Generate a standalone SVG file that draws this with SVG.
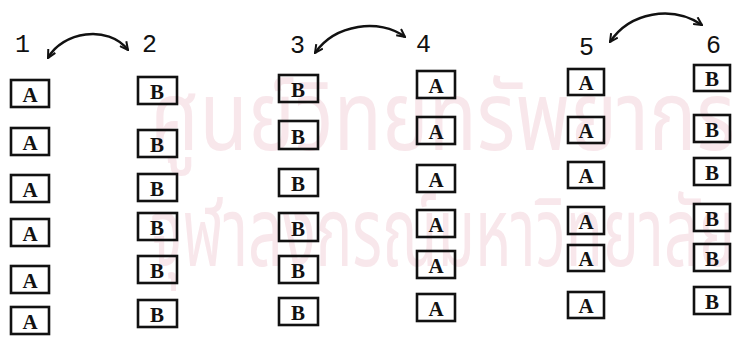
<svg xmlns="http://www.w3.org/2000/svg" width="732" height="339" viewBox="0 0 732 339">
<defs>
<style>
.wm{font-family:"Noto Sans Thai","Noto Sans","DejaVu Sans",sans-serif;font-size:96px;fill:#f8e7eb}
.lbl{font-family:"Liberation Mono","DejaVu Sans Mono",monospace;font-size:25px;fill:#111}
.bx rect{fill:none;stroke:#111;stroke-width:2.6}
.bx text{font-family:"Liberation Serif","DejaVu Serif",serif;font-weight:bold;font-size:21px;fill:#111;text-anchor:middle}
.arr{fill:none;stroke:#111;stroke-width:2.4;marker-start:url(#ah);marker-end:url(#ah)}
</style>
<marker id="ah" viewBox="0 0 10 10" refX="9" refY="5" markerWidth="10" markerHeight="10" orient="auto-start-reverse" markerUnits="userSpaceOnUse">
<path d="M1,1 L9,5 L1,9" fill="none" stroke="#111" stroke-width="2"/>
</marker>
</defs>
<rect width="732" height="339" fill="#fff"/>
<g id="watermark">
<text class="wm" x="150" y="150" textLength="585" lengthAdjust="spacingAndGlyphs">ศูนย์วิทยทรัพยากร</text>
<text class="wm" x="150" y="266" textLength="585" lengthAdjust="spacingAndGlyphs">จุฬาลงกรณ์มหาวิทยาลัย</text>
</g>
<g id="labels">
<text class="lbl" x="15" y="52">1</text>
<text class="lbl" x="142" y="52">2</text>
<text class="lbl" x="290" y="53">3</text>
<text class="lbl" x="416" y="52">4</text>
<text class="lbl" x="579" y="55">5</text>
<text class="lbl" x="706" y="53">6</text>
</g>
<g id="connectors">
<path class="arr" d="M48,58 C62,32 108,24 128,50"/>
<path class="arr" d="M315,53 C335,24 380,18 405,37"/>
<path class="arr" d="M610,42 C630,12 672,5 702,25"/>
</g>
<g id="col1" class="bx">
<g id="c1r1"><rect x="11" y="80" width="38" height="27"/><text x="30" y="102">A</text></g>
<g id="c1r2"><rect x="11" y="128" width="38" height="27"/><text x="30" y="150">A</text></g>
<g id="c1r3"><rect x="11" y="175" width="38" height="27"/><text x="30" y="197">A</text></g>
<g id="c1r4"><rect x="11" y="219" width="38" height="27"/><text x="30" y="241">A</text></g>
<g id="c1r5"><rect x="11" y="266" width="38" height="27"/><text x="30" y="288">A</text></g>
<g id="c1r6"><rect x="11" y="307" width="38" height="27"/><text x="30" y="329">A</text></g>
</g>
<g id="col2" class="bx">
<g id="c2r1"><rect x="138" y="77" width="39" height="27"/><text x="157" y="99">B</text></g>
<g id="c2r2"><rect x="138" y="130" width="39" height="27"/><text x="157" y="152">B</text></g>
<g id="c2r3"><rect x="138" y="174" width="39" height="27"/><text x="157" y="196">B</text></g>
<g id="c2r4"><rect x="138" y="213" width="39" height="27"/><text x="157" y="235">B</text></g>
<g id="c2r5"><rect x="138" y="256" width="39" height="27"/><text x="157" y="278">B</text></g>
<g id="c2r6"><rect x="138" y="300" width="39" height="27"/><text x="157" y="322">B</text></g>
</g>
<g id="col3" class="bx">
<g id="c3r1"><rect x="279" y="75" width="39" height="27"/><text x="298" y="97">B</text></g>
<g id="c3r2"><rect x="279" y="121" width="39" height="28"/><text x="298" y="144">B</text></g>
<g id="c3r3"><rect x="279" y="169" width="39" height="27"/><text x="298" y="191">B</text></g>
<g id="c3r4"><rect x="279" y="213" width="39" height="28"/><text x="298" y="236">B</text></g>
<g id="c3r5"><rect x="279" y="256" width="39" height="27"/><text x="298" y="278">B</text></g>
<g id="c3r6"><rect x="279" y="298" width="39" height="27"/><text x="298" y="320">B</text></g>
</g>
<g id="col4" class="bx">
<g id="c4r1"><rect x="417" y="71" width="38" height="27"/><text x="436" y="93">A</text></g>
<g id="c4r2"><rect x="417" y="117" width="38" height="27"/><text x="436" y="139">A</text></g>
<g id="c4r3"><rect x="417" y="165" width="38" height="27"/><text x="436" y="187">A</text></g>
<g id="c4r4"><rect x="417" y="210" width="38" height="27"/><text x="436" y="232">A</text></g>
<g id="c4r5"><rect x="417" y="251" width="38" height="27"/><text x="436" y="273">A</text></g>
<g id="c4r6"><rect x="417" y="294" width="38" height="27"/><text x="436" y="316">A</text></g>
</g>
<g id="col5" class="bx">
<g id="c5r1"><rect x="568" y="69" width="36" height="26"/><text x="586" y="90">A</text></g>
<g id="c5r2"><rect x="568" y="117" width="36" height="26"/><text x="586" y="138">A</text></g>
<g id="c5r3"><rect x="568" y="162" width="36" height="26"/><text x="586" y="183">A</text></g>
<g id="c5r4"><rect x="568" y="207" width="36" height="27"/><text x="586" y="229">A</text></g>
<g id="c5r5"><rect x="568" y="245" width="36" height="26"/><text x="586" y="266">A</text></g>
<g id="c5r6"><rect x="568" y="292" width="36" height="26"/><text x="586" y="313">A</text></g>
</g>
<g id="col6" class="bx">
<g id="c6r1"><rect x="694" y="65" width="36" height="26"/><text x="712" y="86">B</text></g>
<g id="c6r2"><rect x="694" y="115" width="36" height="27"/><text x="712" y="137">B</text></g>
<g id="c6r3"><rect x="694" y="158" width="36" height="27"/><text x="712" y="180">B</text></g>
<g id="c6r4"><rect x="694" y="204" width="36" height="27"/><text x="712" y="226">B</text></g>
<g id="c6r5"><rect x="694" y="244" width="36" height="27"/><text x="712" y="266">B</text></g>
<g id="c6r6"><rect x="694" y="287" width="36" height="27"/><text x="712" y="309">B</text></g>
</g>
</svg>
